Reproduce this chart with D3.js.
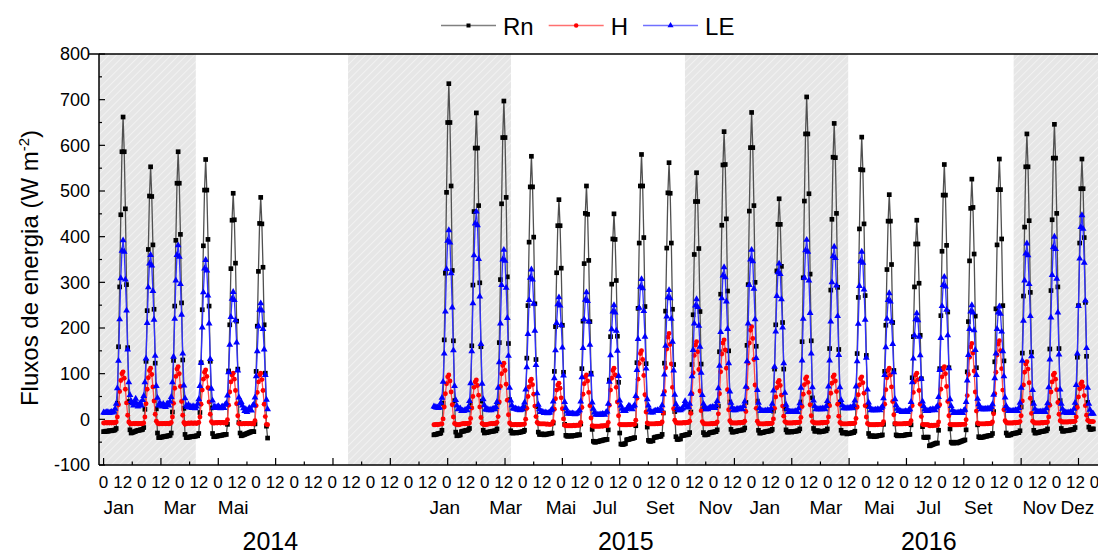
<!DOCTYPE html>
<html>
<head>
<meta charset="utf-8">
<script src="https://cdn.jsdelivr.net/npm/d3@7"></script>
<style>
  body { margin: 0; background: #fff; }
  svg text { font-family: "Liberation Sans", Arial, sans-serif; fill: #000; }
</style>
</head>
<body>
<svg id="chart" width="1098" height="557"></svg>
<script>
// Mean diurnal cycles per month (hourly values, W m-2), Jan 2014 - Dec 2016.
// One entry per month; null = month without measurements (Jul-Dec 2014).
const rn = [
  [-27,-27,-26,-26,-26,-25,-25,-25,-24,-24,-23,-20,35,159,290,448,586,662,586,461,295,157,39,-23],
  [-30,-29,-28,-27,-26,-25,-24,-24,-23,-23,-22,-18,22,127,238,372,489,553,488,382,241,123,23,-30],
  [-40,-40,-39,-39,-38,-38,-37,-37,-36,-36,-35,-30,16,129,248,392,517,586,517,405,255,130,24,-33],
  [-40,-40,-39,-39,-38,-38,-38,-37,-37,-36,-36,-31,15,124,240,380,502,569,502,394,248,127,25,-31],
  [-38,-38,-37,-37,-36,-36,-35,-35,-34,-34,-33,-33,-11,106,207,330,436,495,437,342,215,110,-7,-30],
  [-36,-35,-34,-33,-32,-31,-30,-29,-28,-27,-27,-27,-10,105,204,324,429,486,428,333,207,101,-15,-41],
  null, null, null, null, null, null,
  [-34,-33,-33,-32,-31,-31,-30,-24,35,174,320,497,650,735,650,511,326,172,41,-28,-36,-35,-35,-34],
  [-27,-26,-26,-25,-24,-24,-23,-20,36,161,294,455,594,671,594,468,299,159,40,-24,-30,-29,-29,-28],
  [-28,-27,-27,-26,-26,-25,-25,-21,37,168,306,472,617,697,617,486,312,166,43,-25,-30,-30,-29,-29],
  [-30,-29,-29,-28,-28,-27,-27,-24,25,134,249,388,509,576,509,399,253,131,28,-28,-33,-33,-32,-32],
  [-34,-33,-33,-32,-32,-31,-31,-30,-8,105,203,321,424,481,424,331,206,103,-11,-35,-37,-37,-36,-36],
  [-37,-36,-36,-35,-35,-34,-34,-34,-10,111,215,341,451,511,449,348,214,101,-22,-48,-50,-50,-49,-49],
  [-48,-47,-47,-46,-45,-45,-44,-44,-23,86,181,296,395,450,394,304,182,81,-30,-54,-55,-55,-54,-53],
  [-45,-44,-44,-43,-42,-42,-41,-40,-14,124,243,386,511,580,511,398,247,122,-17,-46,-48,-48,-47,-47],
  [-40,-39,-39,-38,-38,-37,-37,-33,14,123,237,375,496,562,495,386,241,120,17,-38,-44,-44,-43,-43],
  [-36,-35,-35,-34,-34,-33,-33,-29,16,120,229,361,477,540,477,374,236,121,23,-29,-34,-34,-33,-33],
  [-30,-29,-29,-28,-28,-27,-27,-23,29,148,274,425,557,630,558,439,281,150,38,-22,-28,-28,-27,-27],
  [-26,-25,-25,-24,-24,-23,-23,-19,37,162,295,456,595,672,595,468,300,160,40,-24,-30,-30,-29,-29],
  [-28,-27,-27,-26,-26,-25,-25,-22,18,110,207,325,427,483,427,335,212,110,23,-23,-28,-28,-27,-27],
  [-28,-27,-27,-26,-26,-25,-25,-21,38,170,310,478,625,706,625,494,318,172,47,-20,-26,-26,-25,-25],
  [-28,-27,-27,-26,-26,-25,-25,-21,33,155,283,438,574,648,573,451,289,153,38,-24,-30,-30,-29,-29],
  [-32,-31,-31,-30,-30,-29,-29,-26,27,144,267,417,547,618,546,428,271,140,29,-31,-37,-37,-36,-36],
  [-38,-37,-37,-36,-36,-35,-35,-34,-11,105,206,328,434,492,434,339,212,107,-10,-34,-36,-36,-35,-35],
  [-36,-35,-35,-34,-34,-33,-33,-33,-12,91,181,290,384,436,384,298,184,89,-16,-39,-40,-40,-39,-39],
  [-58,-57,-56,-55,-54,-53,-52,-52,-24,111,227,368,491,558,491,381,235,113,-21,-50,-52,-52,-51,-50],
  [-52,-51,-50,-49,-48,-47,-46,-45,-23,104,214,347,462,526,464,362,226,113,-12,-38,-40,-40,-39,-39],
  [-38,-37,-37,-36,-36,-35,-35,-31,17,126,242,382,503,570,503,395,249,128,26,-30,-35,-35,-34,-34],
  [-32,-31,-31,-30,-30,-29,-29,-25,27,145,270,421,553,625,553,435,278,147,36,-24,-30,-30,-29,-29],
  [-28,-27,-27,-26,-26,-25,-25,-21,33,154,282,437,572,646,572,451,290,155,41,-20,-26,-26,-25,-25],
  [-25,-24,-24,-23,-23,-22,-22,-18,29,136,249,386,505,570,505,398,256,138,37,-17,-22,-22,-21,-21]
];

const hFlux = [
  [-8,-8,-7,-8,-7,-8,-7,-8,-7,-8,-7,-6,5,32,61,85,100,104,90,66,36,9,-6,-9],
  [-10,-10,-9,-10,-9,-9,-10,-9,-9,-10,-9,-8,5,34,66,91,107,112,98,71,40,11,-4,-8],
  [-10,-10,-9,-10,-9,-9,-10,-9,-9,-10,-9,-7,5,35,68,94,110,115,100,72,39,9,-7,-11],
  [-9,-9,-8,-9,-8,-8,-9,-8,-8,-9,-8,-7,5,33,64,88,103,108,94,69,38,11,-5,-8],
  [-8,-8,-7,-8,-7,-7,-8,-7,-7,-8,-7,-8,-1,31,60,82,97,101,88,63,34,8,-9,-10],
  [-10,-10,-9,-10,-9,-9,-10,-9,-9,-10,-9,-10,-3,30,59,82,97,101,87,63,33,6,-11,-12],
  null, null, null, null, null, null,
  [-12,-12,-11,-12,-11,-11,-10,-10,1,27,56,78,93,97,84,60,32,5,-9,-11,-12,-12,-12,-11],
  [-10,-10,-9,-10,-9,-9,-9,-8,2,25,50,70,82,86,74,53,27,4,-9,-11,-12,-12,-11,-11],
  [-10,-10,-9,-10,-9,-9,-9,-7,6,38,72,100,118,123,107,77,42,10,-8,-11,-12,-12,-12,-11],
  [-12,-12,-11,-12,-11,-11,-11,-10,0,24,50,71,84,88,76,55,29,6,-7,-9,-10,-10,-10,-10],
  [-10,-10,-11,-10,-11,-11,-11,-10,-5,22,45,64,75,79,68,47,23,1,-13,-14,-14,-14,-14,-14],
  [-14,-14,-13,-14,-13,-13,-13,-13,-7,26,55,78,93,97,84,59,30,3,-14,-15,-15,-15,-15,-15],
  [-15,-15,-14,-15,-14,-14,-14,-14,-7,31,64,90,107,112,97,70,38,8,-11,-12,-12,-12,-12,-12],
  [-12,-12,-11,-12,-11,-11,-11,-11,-2,46,88,122,144,150,131,96,54,16,-8,-10,-10,-10,-10,-10],
  [-10,-10,-9,-10,-9,-9,-9,-6,14,61,113,154,180,188,164,121,70,23,-2,-7,-8,-8,-8,-8],
  [-8,-8,-7,-8,-7,-7,-7,-4,13,56,102,140,163,170,148,109,62,19,-5,-9,-10,-10,-10,-10],
  [-10,-10,-9,-10,-9,-9,-9,-6,12,56,104,143,167,174,152,112,65,21,-3,-7,-8,-8,-8,-8],
  [-8,-8,-7,-8,-7,-7,-7,-4,17,68,123,167,195,203,177,131,75,24,-4,-9,-10,-10,-10,-10],
  [-10,-10,-9,-10,-9,-9,-9,-8,1,24,49,69,81,85,74,53,29,7,-5,-7,-8,-8,-8,-8],
  [-8,-8,-7,-8,-7,-7,-7,-6,4,28,55,76,89,93,81,59,32,8,-5,-7,-8,-8,-8,-8],
  [-8,-8,-7,-8,-7,-7,-7,-6,5,30,57,79,93,97,84,61,33,7,-7,-9,-10,-10,-10,-10],
  [-10,-10,-9,-10,-9,-9,-9,-8,2,27,54,75,89,93,80,57,30,5,-9,-11,-12,-12,-12,-12],
  [-12,-12,-11,-12,-11,-11,-11,-11,-5,33,65,91,107,112,97,71,39,10,-9,-10,-10,-10,-10,-10],
  [-10,-10,-9,-10,-9,-9,-9,-9,-3,30,59,82,97,101,87,63,33,6,-11,-12,-12,-12,-12,-12],
  [-14,-14,-13,-14,-13,-13,-13,-13,-6,32,66,93,110,115,100,72,39,8,-11,-12,-12,-12,-12,-12],
  [-12,-12,-11,-12,-11,-11,-11,-11,-1,52,98,136,159,166,145,106,60,18,-8,-10,-10,-10,-10,-10],
  [-10,-10,-9,-10,-9,-9,-9,-6,12,56,103,141,165,172,150,111,64,21,-3,-7,-8,-8,-8,-8],
  [-8,-8,-7,-8,-7,-7,-7,-5,8,40,75,103,121,126,110,80,46,13,-4,-7,-8,-8,-8,-8],
  [-8,-8,-7,-8,-7,-7,-7,-6,5,31,60,82,97,101,88,65,37,11,-3,-5,-6,-6,-6,-6],
  [-6,-6,-5,-6,-5,-5,-5,-4,5,26,49,67,78,82,72,52,30,9,-2,-4,-5,-5,-5,-5]
];

const le = [
  [15,14,15,16,15,14,15,16,15,17,23,34,68,128,219,309,369,392,367,306,238,153,81,53],
  [40,35,30,38,45,34,28,32,36,30,42,51,81,133,211,289,341,360,337,281,218,139,73,47],
  [30,36,32,28,34,30,27,33,35,30,39,49,81,137,220,304,360,381,356,296,229,144,74,46],
  [30,27,32,26,28,25,29,27,24,28,34,44,73,124,201,278,330,349,326,271,210,132,67,41],
  [26,28,25,27,29,26,24,27,28,25,32,35,52,103,163,224,264,279,261,217,168,107,48,35],
  [38,30,24,18,22,16,20,25,22,19,30,32,48,94,149,204,240,254,238,198,153,97,43,22],
  null, null, null, null, null, null,
  [28,27,26,26,25,26,36,47,82,144,236,329,391,414,387,320,245,151,73,42,30,22,23,24],
  [18,19,18,20,21,20,27,40,79,149,254,359,429,455,425,351,269,165,78,44,31,22,21,22],
  [20,21,20,22,23,22,27,38,69,125,210,294,350,371,347,288,222,139,69,41,31,24,23,24],
  [22,21,22,20,21,22,28,37,65,114,187,261,310,328,306,253,194,119,57,32,22,16,17,16],
  [14,15,14,13,14,15,19,22,39,90,151,211,252,267,249,206,157,96,38,25,17,12,13,12],
  [12,13,12,11,12,13,17,20,39,92,156,219,262,278,259,214,163,98,37,23,15,10,11,10],
  [10,11,10,12,11,10,15,17,34,82,140,197,236,250,234,194,150,95,41,30,23,18,19,18],
  [22,26,30,28,24,22,28,31,51,108,176,244,290,307,287,237,181,111,44,30,21,15,16,15],
  [18,19,18,20,19,18,23,31,55,98,161,225,267,283,265,220,170,107,54,33,25,20,21,20],
  [22,24,30,40,32,26,27,34,56,94,152,210,249,263,246,205,159,102,53,34,27,22,23,22],
  [25,26,25,27,26,25,31,40,68,117,191,265,315,333,311,258,198,123,61,36,26,20,21,20],
  [22,23,22,24,23,22,29,39,71,127,210,294,350,371,346,286,219,134,64,36,25,18,19,18],
  [18,19,18,20,19,18,24,34,63,115,192,270,322,341,318,263,201,123,58,32,23,16,17,16],
  [16,17,16,18,17,16,24,35,69,129,220,310,370,393,367,304,233,144,70,41,29,22,23,22],
  [22,23,22,24,23,22,29,40,72,129,214,300,357,378,353,293,226,141,70,42,31,24,25,24],
  [24,25,24,26,25,24,31,41,72,127,209,292,346,367,343,284,218,135,65,37,27,20,21,20],
  [20,21,20,22,21,20,25,28,46,97,158,220,261,276,258,214,165,103,44,31,23,18,19,18],
  [16,17,16,18,17,16,20,22,38,81,133,184,219,232,217,181,140,89,39,29,22,18,19,18],
  [20,21,20,22,21,20,26,29,49,108,178,248,294,312,291,240,184,112,44,29,20,14,15,14],
  [14,15,14,16,15,14,19,21,38,85,141,198,236,250,234,195,152,97,45,33,27,22,23,22],
  [22,23,22,24,23,22,27,33,54,90,144,198,234,247,231,192,149,94,48,29,23,18,19,18],
  [18,19,18,20,19,18,25,36,69,128,216,304,363,385,359,296,226,138,64,34,23,16,17,16],
  [16,17,16,18,17,16,24,35,70,131,223,316,377,400,373,308,234,142,65,34,23,15,16,15],
  [14,15,14,16,15,14,23,36,75,144,248,352,421,447,417,343,260,156,69,34,21,12,13,12]
];

// Hour-of-day labels under the axis, month names and years
const hourTickLabels = d3.range(53).map(i => (i % 2 ? "12" : "0"));
const monthLabels = ["Jan","Mar","Mai","Jan","Mar","Mai","Jul","Set","Nov","Jan","Mar","Mai","Jul","Set","Nov","Dez"];
const monthLabelSlots = [0.8, 4, 6.8, 17.9, 21.1, 24, 26.3, 29.2, 32.1, 34.7, 37.9, 40.7, 43.3, 45.9, 49.1, 51.1];
const yearLabels = ["2014", "2015", "2016"];
const yearLabelSlots = [8.75, 27.4, 43.3];

// Rainy-season periods (in months since Jan 2014) shaded with hatching
const wetSeasons = [[-0.17, 3.35], [8.88, 14.8], [21.12, 27.05], [33.06, 36.13]];

const yTicks = d3.range(-100, 801, 100);

// ---------------------------------------------------------------------------
const svg = d3.select("#chart");
const plotLeft = 99, plotRight = 1098, plotTop = 54, plotBottom = 465;
const ROWS = 48; // axis rows per month (half-hourly)

// x in months since Jan 2014 (axis runs from row -8 to row 1734)
const x = d3.scaleLinear().domain([-8 / ROWS, 1734 / ROWS]).range([plotLeft, plotRight]);
const y = d3.scaleLinear().domain([-100, 800]).range([plotBottom, plotTop]);
const slot = d3.scaleLinear().domain([0, 52]).range([x(0), x(36)]);

const defs = svg.append("defs");
const pat = defs.append("pattern")
  .attr("id", "hatch").attr("patternUnits", "userSpaceOnUse")
  .attr("width", 5.5).attr("height", 5.5)
  .attr("patternTransform", "rotate(45)");
pat.append("rect").attr("width", 5.5).attr("height", 5.5).attr("fill", "#e6e6e6");
pat.append("line").attr("x1", 0).attr("x2", 0).attr("y1", 0).attr("y2", 5.5)
  .attr("stroke", "#fbfbfb").attr("stroke-width", 1.1);

// shaded seasons
svg.append("g").selectAll("rect").data(wetSeasons).join("rect")
  .attr("x", d => x(d[0])).attr("width", d => x(d[1]) - x(d[0]))
  .attr("y", plotTop).attr("height", plotBottom - plotTop)
  .attr("fill", "url(#hatch)");

const series = [
  { name: "Rn", data: rn,    color: "#000000", line: "#505050", legendLine: "#808080", symbol: d3.symbolSquare,   size: 22 },
  { name: "H",  data: hFlux, color: "#ff0000", line: "#ff4a4a", legendLine: "#ff7070", symbol: d3.symbolCircle,   size: 19 },
  { name: "LE", data: le,    color: "#0000ff", line: "#3030ff", legendLine: "#7070ff", symbol: d3.symbolTriangle, size: 20 }
];

function toPoints(monthly) {
  const pts = [];
  monthly.forEach((day, m) => {
    if (!day) { pts.push({ t: m, v: null }); return; }
    day.forEach((v, hr) => pts.push({ t: m + hr / 24, v }));
  });
  return pts;
}

const line = d3.line().defined(d => d.v != null).x(d => x(d.t)).y(d => y(d.v));

series.forEach(s => {
  const pts = toPoints(s.data);
  const g = svg.append("g");
  g.append("path").datum(pts).attr("d", line)
    .attr("fill", "none").attr("stroke", s.line).attr("stroke-width", 1.3);
  const sym = d3.symbol(s.symbol, s.size)();
  g.selectAll("path.m").data(pts.filter(d => d.v != null)).join("path")
    .attr("class", "m").attr("d", sym)
    .attr("transform", d => `translate(${x(d.t)},${y(d.v)})`)
    .attr("fill", s.color);
});

// ---- axes ----
const axes = svg.append("g").attr("stroke", "#000");
axes.append("line").attr("x1", plotLeft).attr("x2", plotLeft).attr("y1", plotTop).attr("y2", plotBottom).attr("stroke-width", 1.5);
axes.append("line").attr("x1", plotLeft).attr("x2", plotRight).attr("y1", plotBottom).attr("y2", plotBottom).attr("stroke-width", 1.5);
axes.append("line").attr("x1", 89).attr("x2", plotRight).attr("y1", plotTop).attr("y2", plotTop).attr("stroke-width", 1.5);

// left ticks (inward)
axes.selectAll("line.ymaj").data(yTicks).join("line").attr("class", "ymaj")
  .attr("x1", plotLeft).attr("x2", plotLeft + 6).attr("y1", d => y(d)).attr("y2", d => y(d)).attr("stroke-width", 1.2);
axes.selectAll("line.ymin").data(yTicks.slice(0, -1).map(v => v + 50)).join("line").attr("class", "ymin")
  .attr("x1", plotLeft).attr("x2", plotLeft + 3).attr("y1", d => y(d)).attr("y2", d => y(d)).attr("stroke-width", 1.2);
svg.append("g").selectAll("text").data(yTicks).join("text")
  .attr("x", 90).attr("y", d => y(d)).attr("dy", "0.35em")
  .attr("text-anchor", "end").style("font-size", "18px").text(d => d);

// bottom ticks every 50 rows (long every 100)
const xTickRows = d3.range(0, 1701, 50);
axes.selectAll("line.xt").data(xTickRows).join("line").attr("class", "xt")
  .attr("x1", d => x(d / ROWS)).attr("x2", d => x(d / ROWS))
  .attr("y1", plotBottom).attr("y2", d => plotBottom - (d % 100 === 0 ? 7 : 3.5)).attr("stroke-width", 1.2);

svg.append("g").selectAll("text").data(hourTickLabels).join("text")
  .attr("x", (d, i) => slot(i)).attr("y", 488)
  .attr("text-anchor", "middle").style("font-size", "17px").text(d => d);

svg.append("g").selectAll("text").data(monthLabels).join("text")
  .attr("x", (d, i) => slot(monthLabelSlots[i])).attr("y", 514)
  .attr("text-anchor", "middle").style("font-size", "19px").text(d => d);

svg.append("g").selectAll("text").data(yearLabels).join("text")
  .attr("x", (d, i) => slot(yearLabelSlots[i])).attr("y", 550)
  .attr("text-anchor", "middle").style("font-size", "25px").text(d => d);

// y-axis title
const yt = svg.append("text").attr("transform", "translate(38,268) rotate(-90)")
  .attr("text-anchor", "middle").style("font-size", "24px");
yt.append("tspan").text("Fluxos de energia (W m");
yt.append("tspan").attr("dy", "-9").style("font-size", "15px").text("-2");
yt.append("tspan").attr("dy", "9").text(")");

// legend
let lx = 441;
const ly = 25.5;
series.forEach(s => {
  const g = svg.append("g");
  g.append("line").attr("x1", lx).attr("x2", lx + 55).attr("y1", ly).attr("y2", ly)
    .attr("stroke", s.legendLine).attr("stroke-width", 1.6);
  g.append("path").attr("d", d3.symbol(s.symbol, 16)())
    .attr("transform", `translate(${lx + 27.5},${ly})`).attr("fill", s.color);
  const t = g.append("text").attr("x", lx + 62).attr("y", 34.5).style("font-size", "24px").text(s.name);
  lx += 62 + t.node().getComputedTextLength() + 15;
});
</script>
</body>
</html>
